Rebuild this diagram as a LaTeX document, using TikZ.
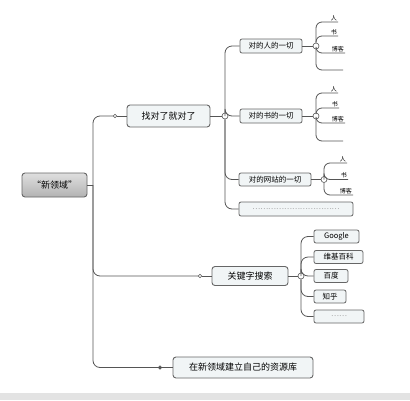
\documentclass[tikz,border=0pt]{standalone}
\usepackage{fontspec}
\setmainfont{Noto Sans CJK SC}
\usepackage{tikz}
\usetikzlibrary{positioning,calc}
\definecolor{boxfill}{HTML}{F1F5F6}
\definecolor{boxline}{HTML}{666666}
\definecolor{wirecol}{HTML}{555555}
\tikzset{
  topic/.style={rectangle, rounded corners=3pt, draw=boxline, line width=0.9pt, fill=boxfill,
                inner sep=0pt, font=\fontsize{9}{10}\selectfont},
  subbox/.style={topic, rounded corners=2pt, line width=0.8pt, font=\fontsize{7.5}{8}\selectfont},
  leaf/.style={inner sep=1pt, anchor=south east, font=\fontsize{6}{6}\selectfont},
  wire/.style={wirecol, line width=0.8pt, rounded corners=7pt},
  knob/.style={circle, draw=wirecol, fill=white, line width=0.6pt, minimum size=6pt, inner sep=0pt},
  joint/.style={circle, draw=wirecol, fill=white, line width=0.5pt, minimum size=3.5pt, inner sep=0pt},
}

\begin{document}
\begin{tikzpicture}[x=1pt,y=-1pt]
\fill[white] (0,0) rectangle (410,400);
\useasboundingbox (0,0) rectangle (410,400);
\fill[gray!22] (0,393) rectangle (410,400);

\node[topic, top color=gray!25, bottom color=gray!60, minimum width=65pt, minimum height=24pt] (root) at (54.5,185) {“新领域”};
\node[topic, minimum width=83pt, minimum height=22pt] (find) at (168.5,116) {找对了就对了};
\node[topic, minimum width=76pt, minimum height=19pt] (kw) at (250,276) {关键字搜索};
\node[topic, minimum width=140pt, minimum height=21pt] (res) at (243,367.5) {在新领域建立自己的资源库};

\coordinate (tk) at (93,185);
\node[joint] (m1) at (115,116) {};
\node[joint] (m2) at (200,276) {};
\node[joint, fill=wirecol] (m3) at (160,367.5) {};
\draw[wire] (root) -- (tk);
\draw[wire] (tk) |- (m1);
\draw[wire] (tk) |- (m2);
\draw[wire] (tk) |- (m3);
\draw[wire] (m1) -- (find);
\draw[wire] (m2) -- (kw);
\draw[wire] (m3) -- (res);

% first branch
\node[knob] (c1) at (225,116) {};
\draw[wire] (find) -- (c1);
\node[subbox, minimum width=62pt, minimum height=14pt] (p1) at (271,46) {对的人的一切};
\node[subbox, minimum width=62pt, minimum height=14pt] (p2) at (271,116) {对的书的一切};
\node[subbox, minimum width=72pt, minimum height=13pt] (p3) at (275,179.5) {对的网站的一切};
\node[subbox, minimum width=114pt, minimum height=14pt] (p4) at (296,209) {\textcolor{gray!75}{……………………………}};
\foreach \p in {p1,p2,p3,p4} \draw[wire] (c1) |- (\p.west);

\node[knob] (q1) at (316,46) {};
\node[knob] (q2) at (316,116) {};
\node[knob] (q3) at (324,179.5) {};
\draw[wire] (p1) -- (q1);
\draw[wire] (p2) -- (q2);
\draw[wire] (p3) -- (q3);
\foreach \q/\n/\t/\x/\y in {q1/l11/人/338/22, q1/l12/书/338/36, q1/l13/博客/345/53, q1/l14//343/70,
                            q2/l21/人/338/93, q2/l22/书/339/108, q2/l23/博客/345/123, q2/l24//343/141,
                            q3/l31/人/347/163, q3/l32/书/348/179.5, q3/l33/博客/353/195} {
  \node[leaf] (\n) at (\x,\y) {\t};
  \draw[wire, rounded corners=6pt] (\q) |- (\n.south east);
}

% second branch
\node[knob] (c2) at (301,276) {};
\draw[wire] (kw) -- (c2);
\foreach \n/\t/\x/\y/\w in {g1/Google/336.5/236.5/45, g2/维基百科/338.5/257/49, g3/百度/331/276/34,
                            g4/知乎/330/296.5/32, g5/\textcolor{gray!75}{……}/339/316.5/50} {
  \node[subbox, minimum width=\w pt, minimum height=13pt] (\n) at (\x,\y) {\t};
  \draw[wire] (c2) |- (\n.west);
}
\end{tikzpicture}
\end{document}
